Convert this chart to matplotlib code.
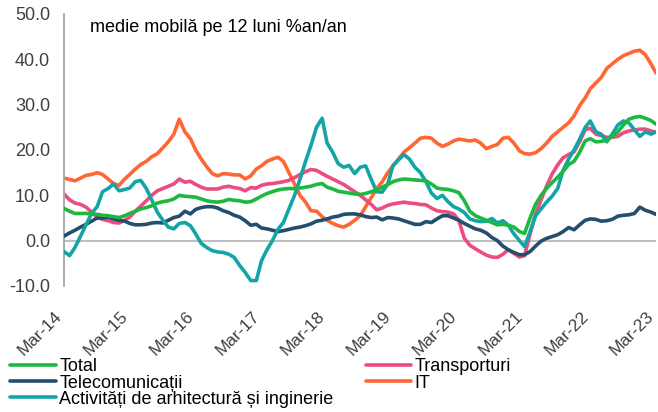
import numpy as np
import pandas as pd
import matplotlib
matplotlib.use("Agg")
import matplotlib.pyplot as plt
import matplotlib.dates as mdates
import matplotlib.transforms as mtransforms

################################################################################
# data: medie mobila pe 12 luni, % an/an, lunar Mar-14 .. Mar-23 #

dates = pd.date_range("2014-03-01", "2023-03-01", freq="MS")

total = [7.1, 6.5, 6.0, 6.0, 6.0, 5.9, 5.8, 5.6, 5.5, 5.3, 5.1, 5.5,
         6.0, 6.5, 7.0, 7.3, 7.7, 8.3, 8.6, 8.8, 9.2, 10.0, 9.8, 9.7,
         9.6, 9.2, 8.8, 8.6, 8.5, 8.7, 9.1, 8.9, 8.8, 8.5, 8.6, 9.2,
         9.8, 10.4, 10.8, 11.2, 11.4, 11.5, 11.5, 11.6, 11.8, 12.0, 12.4, 12.6,
         11.8, 11.4, 10.9, 10.7, 10.5, 10.3, 10.2, 10.4, 10.8, 11.2, 11.8, 12.4,
         13.0, 13.4, 13.6, 13.5, 13.4, 13.3, 13.2, 12.5, 11.6, 11.4, 11.3, 11.0,
         10.6, 8.8, 6.5, 5.5, 5.0, 4.5, 4.0, 3.5, 3.6, 3.4, 3.0, 2.0,
         1.6, 5.0, 8.0, 10.0, 11.5, 12.8, 14.0, 15.3, 16.8, 17.5, 19.5, 22.0,
         22.5, 21.8, 21.9, 22.2, 23.0, 24.0, 25.5, 26.8, 27.2, 27.4, 27.0, 26.5,
         25.7]

transport = [10.3, 9.0, 8.3, 8.0, 7.4, 6.3, 5.2, 4.7, 4.4, 4.0, 3.9, 4.5,
             5.2, 6.5, 7.6, 8.8, 10.0, 11.0, 11.5, 12.0, 12.5, 13.6, 12.9, 13.1,
             12.4, 11.8, 11.4, 11.4, 11.4, 11.8, 12.0, 11.7, 11.5, 11.0, 11.7, 11.6,
             12.2, 12.5, 12.6, 12.8, 13.0, 13.3, 13.9, 14.6, 15.2, 15.7, 15.5, 14.8,
             14.2, 13.6, 13.0, 12.4, 11.6, 10.8, 10.0, 9.0, 8.0, 6.8, 7.2, 7.8,
             8.1, 8.3, 8.5, 8.3, 8.2, 8.0, 7.9, 7.2, 6.6, 6.4, 6.3, 5.9,
             4.5, 0.5, -1.0, -1.8, -2.5, -3.2, -3.6, -3.7, -3.0, -2.0, -2.8, -3.6,
             -3.3, 1.5, 5.8, 9.0, 12.0, 14.7, 16.7, 18.3, 19.0, 19.6, 21.8, 24.5,
             24.8, 23.5, 23.2, 22.8, 22.8, 23.0, 23.8, 24.2, 24.4, 24.6, 24.6, 24.2,
             23.9]

telecom = [1.0, 1.7, 2.3, 3.0, 3.6, 4.3, 5.0, 5.0, 5.2, 4.8, 4.5, 4.3,
           3.8, 3.5, 3.5, 3.6, 3.9, 4.0, 3.9, 4.5, 5.1, 5.4, 6.5, 5.9,
           6.9, 7.3, 7.5, 7.5, 7.2, 6.6, 6.2, 5.6, 5.2, 4.4, 3.4, 3.6,
           2.8, 2.6, 2.3, 2.0, 2.2, 2.5, 2.8, 3.0, 3.3, 3.7, 4.3, 4.5,
           4.8, 5.2, 5.4, 5.8, 5.9, 5.9, 5.7, 5.3, 5.1, 5.2, 4.6, 5.1,
           5.0, 4.8, 4.4, 4.0, 3.6, 3.6, 4.2, 4.0, 4.8, 5.5, 5.5, 5.0,
           4.5, 3.8, 3.2, 2.6, 2.3, 1.7, 0.7, 0.0, -1.2, -2.0, -2.6, -3.1,
           -3.1, -2.4, -1.2, -0.1, 0.5, 0.9, 1.3, 2.0, 2.9, 2.4, 3.5, 4.5,
           4.8, 4.7, 4.3, 4.4, 4.7, 5.4, 5.6, 5.7, 6.0, 7.4, 6.7, 6.3,
           5.8]

it = [13.8, 13.5, 13.2, 13.8, 14.4, 14.6, 15.0, 14.6, 13.6, 12.6, 12.2, 13.6,
      14.6, 15.8, 16.8, 17.5, 18.5, 19.2, 20.5, 21.8, 23.5, 26.8, 24.0, 22.5,
      20.0, 18.0, 16.3, 14.8, 14.3, 14.8, 14.7, 14.5, 14.5, 13.6, 14.3, 15.8,
      16.5, 17.5, 18.0, 18.4, 17.5, 15.0, 12.5, 10.0, 8.5, 6.6, 6.5, 5.3,
      4.5, 3.8, 3.3, 3.0, 3.6, 4.5, 5.5, 7.5, 9.5, 11.5, 13.0, 15.0,
      16.5, 18.0, 19.5, 20.5, 21.5, 22.6, 22.8, 22.6, 21.5, 20.8, 21.3, 22.0,
      22.4, 22.2, 22.0, 22.2, 21.5, 20.3, 20.8, 21.2, 22.6, 22.8, 21.5, 19.8,
      19.2, 19.1, 19.4, 20.3, 21.5, 23.0, 24.0, 25.0, 26.0, 27.5, 29.8, 31.5,
      33.5, 34.8, 36.0, 38.0, 39.0, 40.0, 40.8, 41.3, 41.8, 42.0, 41.0, 39.0,
      37.0]

arhitectura = [-2.4, -3.3, -1.5, 1.0, 3.5, 6.0, 7.5, 10.8, 11.5, 12.5, 11.0, 11.3,
               11.6, 13.0, 13.3, 11.5, 9.0, 6.3, 4.5, 3.0, 2.6, 3.8, 4.0, 3.3,
               1.5, -0.6, -1.5, -2.2, -2.5, -2.6, -3.0, -3.7, -5.5, -7.0, -8.8, -8.8,
               -4.5, -2.0, 0.0, 2.5, 4.0, 7.0, 10.0, 13.5, 17.5, 21.0, 25.0, 27.0,
               21.5, 19.5, 17.0, 16.2, 16.6, 14.8, 16.2, 16.5, 13.5, 10.8, 10.7, 12.5,
               16.5, 17.8, 19.0, 18.0, 16.2, 15.0, 13.0, 10.5, 9.3, 10.0, 8.6, 7.5,
               7.0, 6.2, 4.8, 4.4, 4.2, 4.3, 4.9, 3.9, 4.4, 3.4, 1.5, 0.0,
               -1.3, 2.0, 5.5, 7.0, 8.5, 9.8, 11.5, 15.5, 18.0, 20.0, 22.4, 25.0,
               26.4, 24.0, 23.5, 21.8, 23.5, 25.5, 26.4, 26.0, 24.5, 23.0, 24.0, 23.5,
               24.0]

labels = ["Total", "Telecomunicații", "Activități de arhitectură și inginerie",
          "Transporturi", "IT"]
yticks = [-10, 0, 10, 20, 30, 40, 50]

################################################################################
# plot #

plt.rcParams["font.family"] = ["Liberation Sans", "DejaVu Sans"]
plt.rcParams["font.size"] = 13

fig = plt.figure(figsize=(6.58, 4.12), dpi=100)
ax = fig.add_axes([64/658, 1-286/412, 592/658, 272/412])

series = [total, telecom, arhitectura, transport, it]
colors = ["#1DB840", "#244E6E", "#13A5A5", "#EC4D7E", "#FF6633"]
zorders = [5, 3, 4, 2, 1]
for s, c, lab, z in zip(series, colors, labels, zorders):
  ax.plot(dates, s, color=c, lw=2.6, label=lab, zorder=z, solid_capstyle="round")

ax.axhline(0, color="#BFBFBF", lw=1.5, zorder=0)

ax.set_xlim(dates[0], dates[-1])
ax.set_ylim(-10, 50)
ax.set_yticks(yticks)
ax.yaxis.set_major_formatter(matplotlib.ticker.FormatStrFormatter("%.1f"))
ax.xaxis.set_major_locator(mdates.MonthLocator(bymonth=3))
ax.xaxis.set_major_formatter(mdates.DateFormatter("Mar-%y"))

for sp in ["top", "right", "bottom"]:
  ax.spines[sp].set_visible(False)
ax.spines["left"].set_color("#A6A6A6")
ax.spines["left"].set_linewidth(1.3)
ax.tick_params(axis="both", length=0, colors="#404040", labelsize=13)
ax.tick_params(axis="y", pad=10)
ax.tick_params(axis="x", pad=16, labelsize=12.5)
offset = mtransforms.ScaledTranslation(1/100, 0, fig.dpi_scale_trans)
for t in ax.get_xticklabels():
  t.set_rotation(45)
  t.set_ha("right")
  t.set_va("top")
  t.set_transform(t.get_transform() + offset)

ax.text((90-64)/592, 1-13/272, "medie mobilă pe 12 luni %an/an", transform=ax.transAxes,
        fontsize=13, va="center", ha="left", color="black")

fig.legend(loc="upper left", bbox_to_anchor=(5/658, 1-353/412), ncol=2, frameon=False,
           handlelength=2.5, handletextpad=0.2, columnspacing=1.8, labelspacing=-0.05,
           borderaxespad=0, borderpad=0.3, fontsize=13)

fig.savefig("out.png", dpi=100)
